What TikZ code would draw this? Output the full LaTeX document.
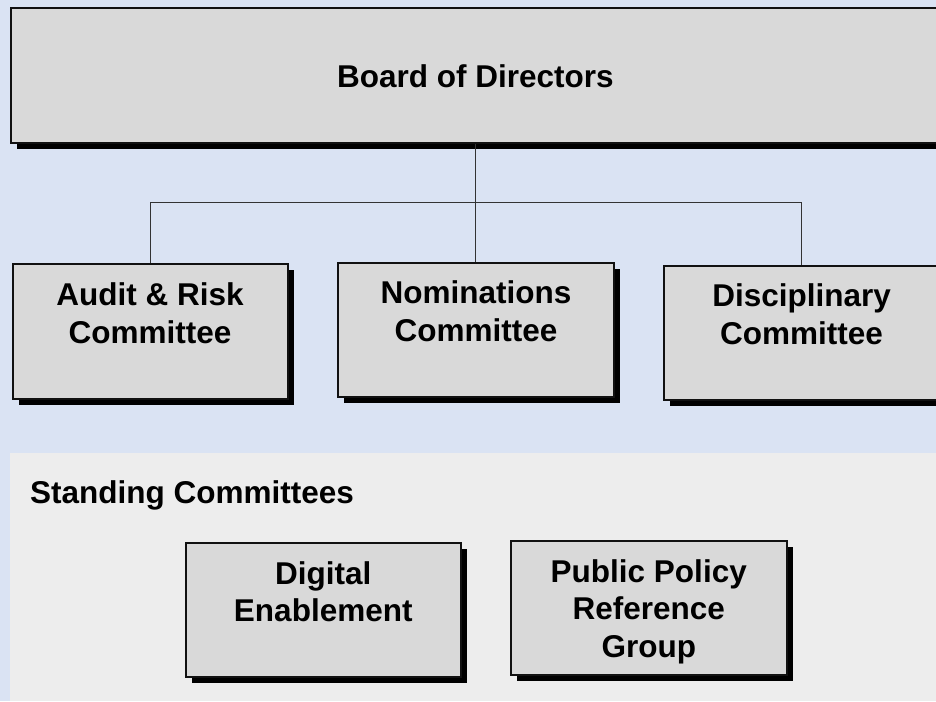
\documentclass[tikz,border=0pt]{standalone}
\usepackage{fontspec}
\setmainfont{Liberation Sans}
\usetikzlibrary{shadows}
\definecolor{bgblue}{HTML}{DAE3F3}
\definecolor{bggrey}{HTML}{EDEDED}
\definecolor{boxfill}{HTML}{D9D9D9}
\definecolor{edge}{HTML}{111111}
\definecolor{conn}{HTML}{333333}
\tikzset{
  orgbox/.style={draw=edge, line width=1.8pt, fill=boxfill, inner sep=0pt,
    drop shadow={shadow xshift=6pt, shadow yshift=-6pt, fill=black, opacity=1}},
  txt/.style={font=\fontsize{31.5}{37.8}\selectfont\bfseries, align=center, inner sep=0pt, text=black},
  conline/.style={draw=conn, line width=1.1pt}
}
\begin{document}
\begin{tikzpicture}[x=1pt, y=-1pt]
  \useasboundingbox (0,0) rectangle (936,701);
  \fill[bgblue] (0,0) rectangle (936,701);
  \fill[bggrey] (10,452.7) rectangle (936,701);

  % boxes
  \node[orgbox, anchor=north west, minimum width=929pt, minimum height=135pt] (board) at (10,7) {};
  \node[orgbox, anchor=north west, minimum width=275pt, minimum height=135pt] (bA) at (11.7,263) {};
  \node[orgbox, anchor=north west, minimum width=275.4pt, minimum height=134pt] (bN) at (337.3,262) {};
  \node[orgbox, anchor=north west, minimum width=276pt, minimum height=134pt] (bD) at (662.7,265) {};
  \node[orgbox, anchor=north west, minimum width=275.3pt, minimum height=133.7pt] (bG) at (184.7,542) {};
  \node[orgbox, anchor=north west, minimum width=275.7pt, minimum height=134pt] (bP) at (510,540) {};

  % connectors
  \coordinate (hub) at (474.5,202.7);
  \draw[conline] (board.south) -- (board.south |- bN.north);
  \draw[conline] (bA.north) |- (hub) -| (bD.north);

  % texts
  \node[txt] (tB) at ([yshift=-1.3pt]board.center) {Board of Directors};
  \node[txt, anchor=north] (tA) at ([yshift=-19.5pt]bA.north) {Audit \& Risk\\Committee};
  \node[txt, anchor=north] (tN) at ([yshift=-18.5pt]bN.north) {Nominations\\Committee};
  \node[txt, anchor=north] (tD) at ([yshift=-18.5pt]bD.north) {Disciplinary\\Committee};
  \node[txt, anchor=base west] (st) at (30,503.3) {Standing Committees};
  \node[txt, anchor=north] (tG) at ([yshift=-19pt]bG.north) {Digital\\Enablement};
  \node[txt, anchor=north] (tP) at ([yshift=-19pt]bP.north) {Public Policy\\Reference\\Group};
\end{tikzpicture}
\end{document}
